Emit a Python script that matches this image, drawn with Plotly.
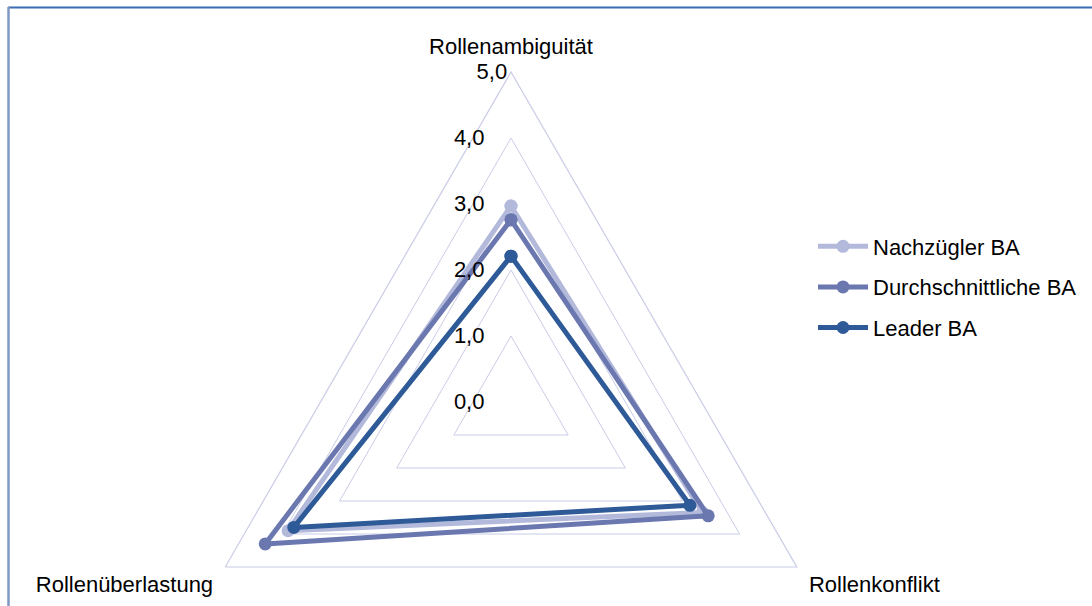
import plotly.graph_objects as go

# Dimensions of the radar (clockwise from the top)
dimensions = ["Rollenambiguität", "Rollenkonflikt", "Rollenüberlastung"]

# Mean scores per group
nachzuegler = [2.97, 3.35, 3.90]
durchschnitt = [2.76, 3.45, 4.30]
leader = [2.21, 3.13, 3.80]

series_names = ["Nachzügler BA", "Durchschnittliche BA", "Leader BA"]
series_values = [nachzuegler, durchschnitt, leader]
series_colors = ["#B3B9DA", "#6B78B0", "#2F5A98"]

radial_ticks = [0, 1, 2, 3, 4, 5]
radial_labels = ["0,0", "1,0", "2,0", "3,0", "4,0", "5,0"]

W, H = 1092, 740
FONT = "Liberation Sans, Arial, sans-serif"
GRID = "#C9CCE6"
FS = 22
PAD = "\u00a0" * 3 + "\u2009"

# inner labels sit further left of the axis than the outermost one
tick_text = [t + PAD if v < 5 else t for v, t in zip(radial_ticks, radial_labels)]

fig = go.Figure()
for name, vals, col in zip(series_names, series_values, series_colors):
    fig.add_trace(go.Scatterpolar(
        r=vals + vals[:1],
        theta=dimensions + dimensions[:1],
        mode="lines+markers",
        name=name,
        legendgroup=name,
        line=dict(color=col, width=5),
        marker=dict(color=col, size=13),
        cliponaxis=False,
    ))

# polar area placed in pixel terms: centre (511, 402), radius 330
cx, cy, R = 511, 402, 330
fig.update_layout(
    width=W, height=H,
    margin=dict(l=0, r=0, t=0, b=0),
    paper_bgcolor="white",
    plot_bgcolor="white",
    font=dict(family=FONT, size=FS, color="black"),
    polar=dict(
        domain=dict(x=[(cx - R) / W, (cx + R) / W],
                    y=[1 - (cy + R) / H, 1 - (cy - R) / H]),
        gridshape="linear",
        bgcolor="white",
        radialaxis=dict(
            range=[0, 5],
            tickvals=radial_ticks,
            ticktext=tick_text,
            angle=90,
            tickangle=90,
            side="counterclockwise",
            showline=False,
            ticks="",
            showgrid=True,
            gridcolor=GRID,
            gridwidth=1.2,
            tickfont=dict(family=FONT, size=FS, color="black"),
        ),
        angularaxis=dict(
            type="category",
            categoryarray=dimensions,
            rotation=90,
            direction="clockwise",
            showline=True,
            linecolor=GRID,
            linewidth=1.2,
            showgrid=False,
            ticks="outside",
            ticklen=9,
            tickcolor="rgba(0,0,0,0)",
            tickfont=dict(family=FONT, size=FS, color="black"),
        ),
    ),
    legend=dict(
        x=813 / W, xanchor="left",
        y=1 - 287 / H, yanchor="middle",
        font=dict(family=FONT, size=FS, color="black"),
        tracegroupgap=9,
        itemwidth=50,
        bgcolor="rgba(0,0,0,0)",
    ),
    shapes=[
        dict(type="line", xref="paper", yref="paper",
             x0=8 / W, x1=1, y0=1 - 7.5 / H, y1=1 - 7.5 / H,
             line=dict(color="#3A6BB5", width=2)),
        dict(type="line", xref="paper", yref="paper",
             x0=8.5 / W, x1=8.5 / W, y0=0, y1=1 - 7 / H,
             line=dict(color="#7F97C4", width=2.5)),
    ],
)

fig.write_html(
    "out.html",
    post_script="document.documentElement.style.overflow='hidden';"
                "document.body.style.overflow='hidden';",
)
